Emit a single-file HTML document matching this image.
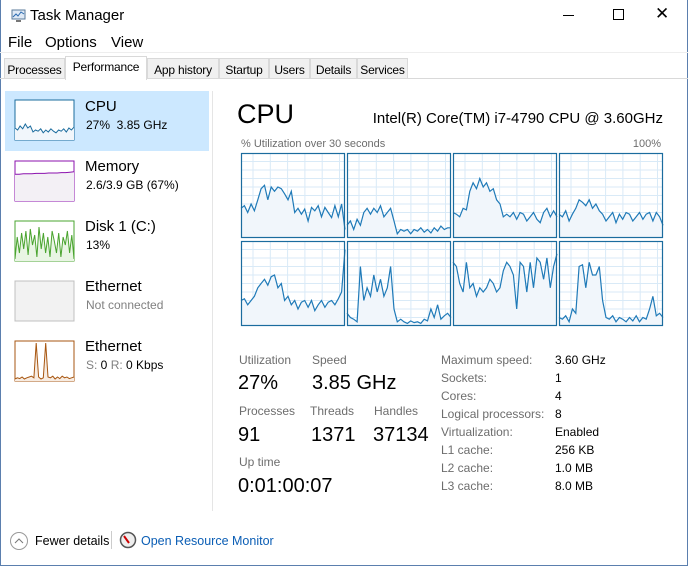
<!DOCTYPE html>
<html><head><meta charset="utf-8"><style>
*{margin:0;padding:0;box-sizing:border-box}
body{width:688px;height:566px;background:#fff;font-family:"Liberation Sans",sans-serif;position:relative;overflow:hidden;color:#000}
.a{position:absolute;white-space:nowrap}
.tab{position:absolute;top:58px;height:21px;border:1px solid #d9d9d9;background:#f0f0f0;font-size:12px;padding:4px 0 0 0;text-align:center;letter-spacing:-0.2px}
.g{font-size:12px;color:#6d6d6d}
.big{font-size:20px}
.k{font-size:12px;color:#6d6d6d}
.v{font-size:12px;color:#000}
</style></head><body>
<div class="a" style="left:0;top:0;width:688px;height:566px;border:1px solid #5b7fae;border-top:none"></div>
<svg class="a" style="left:9px;top:8px" width="18" height="16"><rect x="3" y="2" width="13" height="9" fill="#dfe9f5" stroke="#5a7a9a"/><polyline points="4,9 7,6 9,8 12,4 15,6" fill="none" stroke="#2a6ab0"/><rect x="7" y="12" width="5" height="2" fill="#777"/></svg>
<div class="a" style="left:30px;top:7px;font-size:15px">Task Manager</div>
<div class="a" style="left:563px;top:15px;width:11px;height:1px;background:#000"></div>
<div class="a" style="left:613px;top:9px;width:11px;height:11px;border:1px solid #000"></div>
<div class="a" style="left:655px;top:4px;font-size:17px">✕</div>
<div class="a" style="left:8px;top:34px;font-size:15px">File</div>
<div class="a" style="left:45px;top:34px;font-size:15px">Options</div>
<div class="a" style="left:111px;top:34px;font-size:15px">View</div>
<div class="a" style="left:0;top:52px;width:688px;height:1px;background:#eee"></div>
<div class="a" style="left:0;top:78px;width:688px;height:1px;background:#d9d9d9"></div>
<div class="tab" style="left:4px;width:61px">Processes</div>
<div class="tab" style="left:65px;width:82px;top:56px;height:24px;background:#fff;border-bottom:none;padding-top:3px">Performance</div>
<div class="tab" style="left:147px;width:72px">App history</div>
<div class="tab" style="left:219px;width:50px">Startup</div>
<div class="tab" style="left:269px;width:41px">Users</div>
<div class="tab" style="left:310px;width:47px">Details</div>
<div class="tab" style="left:357px;width:51px">Services</div>

<div class="a" style="left:5px;top:91px;width:204px;height:60px;background:#cce8ff"></div>
<div class="a" style="left:212px;top:91px;width:1px;height:420px;background:#e5e5e5"></div>
<svg class="a" style="left:0;top:0" width="230" height="400" id="side"></svg>
<div class="a" style="left:85px;top:98px;font-size:15px">CPU</div><div class="a" style="left:86px;top:118px;font-size:12px">27%&nbsp; 3.85 GHz</div>
<div class="a" style="left:85px;top:158px;font-size:15px">Memory</div><div class="a" style="left:86px;top:178px;font-size:12px">2.6/3.9 GB (67%)</div>
<div class="a" style="left:85px;top:218px;font-size:15px">Disk 1 (C:)</div><div class="a" style="left:86px;top:238px;font-size:12px">13%</div>
<div class="a" style="left:85px;top:278px;font-size:15px">Ethernet</div><div class="a" style="left:86px;top:298px;font-size:12px;color:#808080">Not connected</div>
<div class="a" style="left:85px;top:338px;font-size:15px">Ethernet</div><div class="a" style="left:86px;top:358px;font-size:12px"><span style="color:#808080">S:</span> 0 <span style="color:#808080">R:</span> 0 Kbps</div>

<div class="a" style="left:237px;top:99px;font-size:27px">CPU</div>
<div class="a" style="right:25px;top:110px;font-size:15px">Intel(R) Core(TM) i7-4790 CPU @ 3.60GHz</div>
<div class="a g" style="left:241px;top:138px;font-size:11px">% Utilization over 30 seconds</div>
<div class="a g" style="right:27px;top:138px;font-size:11px">100%</div>
<svg class="a" style="left:0;top:0" width="688" height="340" id="main"></svg>

<div class="a k" style="left:239px;top:353px">Utilization</div><div class="a k" style="left:312px;top:353px">Speed</div>
<div class="a big" style="left:238px;top:372px">27%</div><div class="a big" style="left:312px;top:372px">3.85 GHz</div>
<div class="a k" style="left:239px;top:404px">Processes</div><div class="a k" style="left:310px;top:404px">Threads</div><div class="a k" style="left:374px;top:404px">Handles</div>
<div class="a big" style="left:238px;top:424px">91</div><div class="a big" style="left:311px;top:424px">1371</div><div class="a big" style="left:373px;top:424px">37134</div>
<div class="a k" style="left:239px;top:455px">Up time</div>
<div class="a big" style="left:238px;top:475px">0:01:00:07</div>
<div class="a k" style="left:441px;top:351px;line-height:18px">Maximum speed:<br>Sockets:<br>Cores:<br>Logical processors:<br>Virtualization:<br>L1 cache:<br>L2 cache:<br>L3 cache:</div>
<div class="a v" style="left:555px;top:351px;line-height:18px">3.60 GHz<br>1<br>4<br>8<br>Enabled<br>256 KB<br>1.0 MB<br>8.0 MB</div>

<svg class="a" style="left:9px;top:531px" width="20" height="20"><circle cx="10" cy="10" r="8.5" fill="none" stroke="#999"/><polyline points="6,12 10,8 14,12" fill="none" stroke="#777"/></svg>
<div class="a" style="left:35px;top:534px;font-size:12.5px">Fewer details</div>
<div class="a" style="left:111px;top:531px;width:1px;height:18px;background:#ccc"></div>
<svg class="a" style="left:119px;top:531px" width="18" height="18"><circle cx="9" cy="9" r="7.5" fill="#eee" stroke="#555" stroke-width="1.5"/><line x1="5" y1="5" x2="10" y2="12" stroke="#c00" stroke-width="2"/></svg>
<div class="a" style="left:141px;top:534px;font-size:12.5px;color:#0b5eb5">Open Resource Monitor</div>

<script>
function pts(d,x,y,w,h){return d.map((v,i)=>(x+i*w/(d.length-1)).toFixed(1)+','+(y+h-v/100*h).toFixed(1)).join(' ');}
var m=document.getElementById('main'),s='';
var D=[
[35,38,30,40,32,45,58,62,45,60,55,60,58,52,45,55,30,35,28,34,20,36,32,38,25,36,30,24,38,25,40,10],
[15,20,10,22,15,30,35,28,35,30,38,25,30,35,20,5,10,8,10,5,10,8,12,7,10,6,12,8,14,10,12,12],
[30,28,25,35,33,55,65,58,70,60,65,55,58,45,40,25,28,25,30,22,30,28,20,25,30,22,18,30,35,25,32,25],
[28,25,32,20,28,35,45,42,38,45,35,40,32,28,20,25,30,18,28,22,30,28,20,25,30,22,28,30,20,30,25,15],
[30,32,25,30,35,45,50,55,48,58,60,45,50,30,35,25,30,20,28,30,22,30,18,25,30,22,28,30,25,32,40,90],
[15,10,8,5,70,30,45,35,60,40,55,35,45,70,20,5,8,5,3,6,4,5,3,8,6,20,10,25,8,12,15,10],
[75,70,50,40,75,45,50,35,45,40,45,55,50,40,45,65,75,70,60,20,75,70,40,75,45,80,75,55,80,45,70,85],
[10,8,12,5,20,15,70,72,45,75,60,60,70,30,10,8,12,5,10,8,5,10,6,12,5,10,8,20,35,12,15,10]];
for(var r=0;r<2;r++)for(var c=0;c<4;c++){var x=241+c*106,y=153+r*88,w=104,h=85,d=D[r*4+c];
s+='<rect x="'+x+'" y="'+y+'" width="'+w+'" height="'+h+'" fill="#fff"/>';
for(var gx=x+12;gx<x+w;gx+=17.3)s+='<line x1="'+gx+'" y1="'+y+'" x2="'+gx+'" y2="'+(y+h)+'" stroke="#d9eaf7"/>';
for(var gy=y+8.5;gy<y+h;gy+=8.5)s+='<line x1="'+x+'" y1="'+gy+'" x2="'+(x+w)+'" y2="'+gy+'" stroke="#d9eaf7"/>';
var p=pts(d,x,y,w,h);
s+='<polygon points="'+x+','+(y+h)+' '+p+' '+(x+w)+','+(y+h)+'" fill="#f1f6fb"/>';
s+='<polyline points="'+p+'" fill="none" stroke="#1f7ab8" stroke-width="1.2"/>';
s+='<rect x="'+(x+.5)+'" y="'+(y+.5)+'" width="'+(w-1)+'" height="'+(h-1)+'" fill="none" stroke="#1b6c9e" stroke-width="1.2"/>';}
m.innerHTML=s;
var sd=document.getElementById('side'),t='';
function thumb(y,col,fill,d){var x=15,w=59,h=40;t+='<rect x="'+x+'" y="'+y+'" width="'+w+'" height="'+h+'" fill="'+(d?'#fff':'#f2f2f2')+'" stroke="'+col+'"/>';
if(d){var p=pts(d,x,y,w,h);t+='<polygon points="'+x+','+(y+h)+' '+p+' '+(x+w)+','+(y+h)+'" fill="'+fill+'"/><polyline points="'+p+'" fill="none" stroke="'+col+'"/>';}}
thumb(100,'#1b6c9e','#f1f6fb',[30,25,35,28,40,30,35,20,25,22,28,18,25,20,28,22,18,25,22,28,20,30,25,32]);
thumb(161,'#8b12ae','#f3f0f5',[67,67,68,68,68,69,69,69,70,70,70,71,71,72,73]);
thumb(221,'#4aa42f','#e9f5e4',[5,60,20,70,30,75,15,80,40,65,10,85,30,70,20,60,10,75,50,20,70,10,60,40,75,20,65,5]);
thumb(281,'#c0c0c0','',null);
thumb(341,'#a75610','#f7ece2',[5,8,6,10,5,8,10,12,8,95,10,5,8,95,10,8,12,5,10,6,12,8,10,6,8,10]);
sd.innerHTML=t;
</script>
</body></html>
